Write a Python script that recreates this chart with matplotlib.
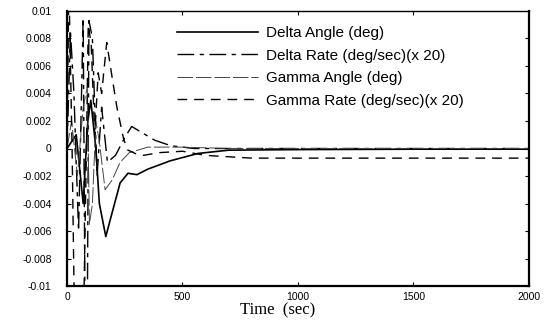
import matplotlib
matplotlib.use('Agg')
from matplotlib import pyplot as plt

# --- data (rates already scaled x20) ---
t_delta_ang = [0, 40, 70, 90, 103, 125, 140, 168, 190, 230, 264, 303, 350,
               446, 567, 700, 1000, 1500, 2000]
delta_ang = [0.0, 0.001, -0.004, 0.002, 0.0035, 0.0, -0.004, -0.0064, -0.005,
             -0.0025, -0.0018, -0.0019, -0.0015, -0.0009, -0.00036, -0.00012,
             -0.00008, -0.00005, -0.00005]

t_delta_rate = [0, 15, 30, 50, 70, 78, 88, 95, 110, 130, 150, 175, 210, 250,
                280, 320, 380, 450, 550, 2000]
delta_rate = [0.0, 0.0085, 0.004, -0.006, 0.0095, -0.012, -0.012, 0.0093,
              0.008, -0.002, 0.003, -0.001, -0.0005, 0.0008, 0.0016, 0.0012,
              0.0006, 0.0002, 0.0, 0.0]

t_gamma_ang = [0, 20, 45, 70, 88, 97, 110, 125, 140, 165, 195, 230, 270,
               350, 500, 700, 2000]
gamma_ang = [0.0, 0.002, -0.002, 0.003, 0.0045, -0.0055, -0.004, 0.002,
             0.0005, -0.003, -0.0023, -0.001, -0.0003, 0.0001, 0.0001, 0.0,
             0.0]

t_gamma_rate = [0, 8, 22, 32, 72, 84, 92, 105, 120, 135, 150, 172, 195, 216,
                245, 262, 300, 330, 400, 500, 600, 800, 1200, 2000]
gamma_rate = [0.0, 0.012, 0.0, -0.012, -0.012, 0.0, 0.009, 0.0075, 0.001,
              0.0055, 0.004, 0.0077, 0.0052, 0.003, 0.0007, -0.0001, -0.0004,
              -0.0005, -0.0003, -0.0002, -0.0005, -0.0007, -0.0007, -0.0007]

labels = ['Delta Angle (deg)', 'Delta Rate (deg/sec)(x 20)',
          'Gamma Angle (deg)', 'Gamma Rate (deg/sec)(x 20)']

x_ticks = [0, 500, 1000, 1500, 2000]
y_ticks = [0.01, 0.008, 0.006, 0.004, 0.002, 0, -0.002, -0.004, -0.006,
           -0.008, -0.01]
y_ticklabels = ['0.01', '0.008', '0.006', '0.004', '0.002', '0', '-0.002',
                '-0.004', '-0.006', '-0.008', '-0.01']

plt.rcParams['font.family'] = ['Liberation Sans', 'DejaVu Sans']

fig = plt.figure(figsize=(5.47, 3.30), dpi=100)
ax = fig.add_axes([0.1225, 0.133, 0.8445, 0.834])

ax.plot(t_delta_ang, delta_ang, color='k', lw=1.2, ls='-', label=labels[0])
ax.plot(t_delta_rate, delta_rate, color='k', lw=1.0,
        ls=(0, (12, 4, 3, 4)), label=labels[1])
ax.plot(t_gamma_ang, gamma_ang, color='#444444', lw=0.7,
        ls=(0, (16, 3)), label=labels[2])
ax.plot(t_gamma_rate, gamma_rate, color='k', lw=1.0,
        ls=(0, (7, 5)), label=labels[3])

ax.set_xlim(0, 2000)
ax.set_ylim(-0.01, 0.01)
ax.set_xticks(x_ticks)
ax.set_xticklabels([str(v) for v in x_ticks])
ax.set_yticks(y_ticks)
ax.set_yticklabels(y_ticklabels)
ax.tick_params(direction='in', length=3, width=0.8, labelsize=7.5,
               top=True, right=True)
ax.tick_params(axis='y', pad=11)
ax.tick_params(axis='x', pad=4)

for side in ['left', 'bottom', 'right']:
    ax.spines[side].set_linewidth(1.6)
ax.spines['top'].set_linewidth(1.0)

ax.set_xlabel('Time  (sec)', family='Liberation Serif', fontsize=12,
              labelpad=2)
ax.xaxis.set_label_coords(0.455, -0.06)

leg = ax.legend(loc='upper left', bbox_to_anchor=(177 / 547, 1 - 26 / 330),
                bbox_transform=fig.transFigure, frameon=False, fontsize=11,
                handlelength=5.3, handletextpad=0.55, labelspacing=0.56,
                borderpad=0, borderaxespad=0)

fig.savefig('out.png', dpi=100)
